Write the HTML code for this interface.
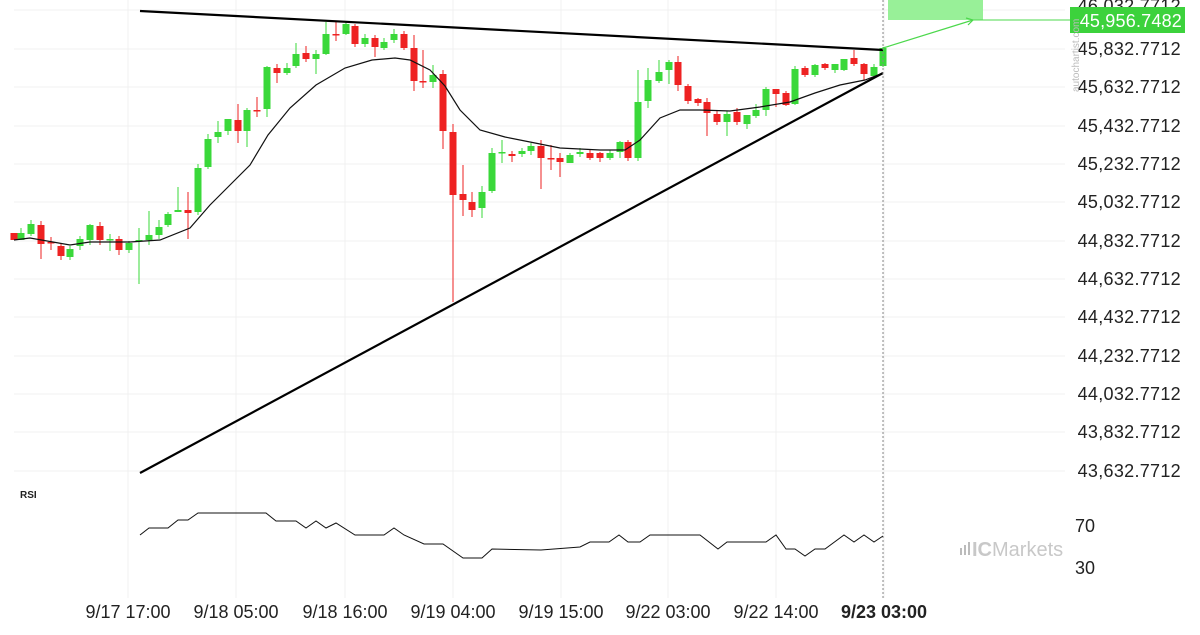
<!DOCTYPE html>
<html><head><meta charset="utf-8"><style>
body{margin:0;background:#fff;width:1200px;height:630px;overflow:hidden;font-family:"Liberation Sans",sans-serif}
</style></head><body>
<svg id="s" width="1200" height="630" xmlns="http://www.w3.org/2000/svg" font-family="Liberation Sans, sans-serif">
<g id="grid" stroke="#f0f0f0" stroke-width="1"></g>
<rect x="888" y="0" width="95" height="20" fill="#98f098"/>
<line x1="973" y1="20" x2="1075" y2="20" stroke="#4cd84c" stroke-width="1"/>
<line x1="883" y1="48" x2="973" y2="20" stroke="#4cd84c" stroke-width="1.2"/>
<polyline points="966,18 973,20 968,25" fill="none" stroke="#4cd84c" stroke-width="1.2"/>
<g id="c"></g>
<polyline fill="none" stroke="#111" stroke-width="1.2" points="14,240 30,238 70,245 90,242 130,242 160,240 190,228 210,205 230,185 250,165 268,135 290,108 316,85 345,68 372,60 395,58 410,60 430,70 445,86 460,110 480,130 505,137 530,142 560,148 600,150 625,150 640,140 660,118 680,110 700,110 730,111 760,107 790,102 815,93 840,85 865,80 883,73"/>
<line x1="140" y1="11" x2="883" y2="50" stroke="#000" stroke-width="2.2"/>
<line x1="140" y1="473" x2="883" y2="73" stroke="#000" stroke-width="2.2"/>
<line x1="883" y1="0" x2="883" y2="598" stroke="#888" stroke-width="1" stroke-dasharray="2,2"/>
<g id="yl" font-size="18" fill="#222" text-anchor="end" letter-spacing="0.3"></g>
<rect x="1070" y="7" width="115" height="26" fill="#3cd23c"/>
<text x="1182" y="27" font-size="18" fill="#fff" text-anchor="end" letter-spacing="0.2">45,956.7482</text>
<text x="0" y="0" font-size="10" fill="#bbb" transform="translate(1079,92) rotate(-90)">autochartist.com</text>
<text x="20" y="498" font-size="10" font-weight="bold" fill="#222">RSI</text>
<text x="1075" y="532" font-size="18" fill="#222">70</text>
<text x="1075" y="574" font-size="18" fill="#222">30</text>
<polyline fill="none" stroke="#111" stroke-width="1" points="140,535 149,528 168,528 178,520 188,520 198,513 266,513 276,521 296,521 306,528 316,521 326,528 336,523 355,535 384,535 394,528 404,535 424,544 443,544 463,558 482,558 492,549 541,550 580,547 590,542 609,542 619,535 628,542 640,542 650,535 700,535 718,549 727,542 766,542 776,535 786,549 795,549 805,556 815,549 825,549 844,535 854,542 864,535 874,542 883,536"/>
<g fill="#bbb"><rect x="960" y="548" width="2" height="7"/><rect x="964" y="545" width="2" height="10"/><rect x="968" y="542" width="2" height="13"/></g>
<text x="972" y="556" font-size="20" fill="#c8c8c8" font-weight="bold">IC<tspan font-weight="normal">Markets</tspan></text>
<g id="xl" font-size="18" fill="#222" text-anchor="middle"></g>
</svg>
<script>
var ns="http://www.w3.org/2000/svg";
function el(p,t,a,txt){var e=document.createElementNS(ns,t);for(var k in a)e.setAttribute(k,a[k]);if(txt)e.textContent=txt;document.getElementById(p).appendChild(e);}
var ys=[10,49,87,126,164,202,241,279,317,356,394,432,471];
var vals=["46,032.7712","45,832.7712","45,632.7712","45,432.7712","45,232.7712","45,032.7712","44,832.7712","44,632.7712","44,432.7712","44,232.7712","44,032.7712","43,832.7712","43,632.7712"];
for(var i=0;i<ys.length;i++){el("grid","line",{x1:14,x2:1065,y1:ys[i],y2:ys[i]});if(i>0)el("yl","text",{x:1181,y:ys[i]+6},vals[i]);}
el("yl","text",{x:1181,y:12},vals[0]);
var xs=[128,236,345,453,561,668,776,884],xt=["9/17 17:00","9/18 05:00","9/18 16:00","9/19 04:00","9/19 15:00","9/22 03:00","9/22 14:00","9/23 03:00"];
for(i=0;i<xs.length;i++){el("grid","line",{x1:xs[i],x2:xs[i],y1:0,y2:598});var a={x:xs[i],y:618};if(i==7)a["font-weight"]="bold";el("xl","text",a,xt[i]);}
var C=[[14,'r',233,240,233,240],[21,'g',233,240,228,240],[31,'g',224,234,220,236],[41,'r',225,244,221,259],[51,'r',242,243,237,250],[61,'r',246,256,244,260],[70,'g',249,257,246,260],[80,'g',239,246,236,250],[90,'g',225,240,224,245],[100,'r',226,240,222,245],[110,'g',239,240,234,251],[119,'r',239,250,236,255],[129,'g',243,250,241,253],[139,'g',240,241,228,284],[149,'g',235,240,211,245],[159,'g',227,235,220,239],[168,'g',214,225,212,227],[178,'g',210,212,187,212],[188,'r',210,213,192,239],[198,'g',168,212,164,215],[208,'g',139,167,134,169],[218,'g',132,137,121,143],[228,'g',119,131,119,135],[238,'r',120,131,104,143],[247,'g',110,131,108,147],[257,'r',110,111,97,117],[267,'g',67,109,66,117],[277,'r',68,73,64,83],[287,'g',68,73,63,75],[296,'g',54,66,43,68],[306,'r',53,59,46,62],[316,'g',54,59,50,74],[326,'g',34,54,22,55],[336,'r',34,35,22,41],[346,'g',24,34,22,35],[355,'r',26,44,24,47],[365,'g',38,44,34,47],[375,'r',38,47,35,57],[384,'g',42,48,38,50],[394,'g',34,40,29,43],[404,'r',34,48,31,50],[414,'r',48,81,35,91],[423,'r',81,82,50,88],[433,'g',75,82,65,88],[443,'r',74,131,70,149],[453,'r',132,195,124,302],[463,'r',194,200,165,216],[472,'r',202,210,192,217],[482,'g',192,208,186,218],[492,'g',153,191,148,193],[502,'g',152,153,140,163],[512,'r',154,156,151,162],[522,'g',151,154,148,157],[531,'g',146,151,143,155],[541,'r',146,158,140,189],[551,'r',158,159,145,170],[560,'r',158,162,153,177],[570,'g',155,163,153,163],[580,'g',152,154,148,157],[590,'r',153,158,150,160],[600,'r',153,158,152,162],[610,'g',153,158,150,160],[620,'g',142,152,141,158],[628,'r',142,158,140,161],[638,'g',102,158,70,161],[648,'g',80,101,68,108],[659,'g',72,81,60,83],[669,'g',62,70,60,84],[678,'r',62,85,56,91],[688,'r',86,101,84,104],[698,'r',99,103,98,106],[707,'r',102,113,98,136],[717,'r',114,122,111,125],[727,'g',114,122,111,136],[737,'r',112,122,108,125],[747,'g',115,124,115,129],[756,'g',110,116,104,118],[766,'g',89,110,87,116],[776,'r',89,94,89,107],[786,'r',93,105,91,106],[795,'g',69,104,66,105],[805,'r',68,75,66,77],[815,'g',65,75,64,77],[825,'r',64,68,63,70],[835,'g',64,70,64,73],[844,'g',59,70,59,71],[854,'r',58,64,50,66],[864,'r',64,74,63,80],[874,'g',67,76,64,78],[883,'g',48,66,47,67]];
C.forEach(function(c){var col=c[1]=='g'?'#3ad83a':'#ee2222';el("c","line",{x1:c[0],x2:c[0],y1:c[4],y2:c[5],stroke:col,"stroke-width":1});el("c","rect",{x:c[0]-3.5,y:c[2],width:7,height:Math.max(1.5,c[3]-c[2]),fill:col});});
</script>
</body></html>
